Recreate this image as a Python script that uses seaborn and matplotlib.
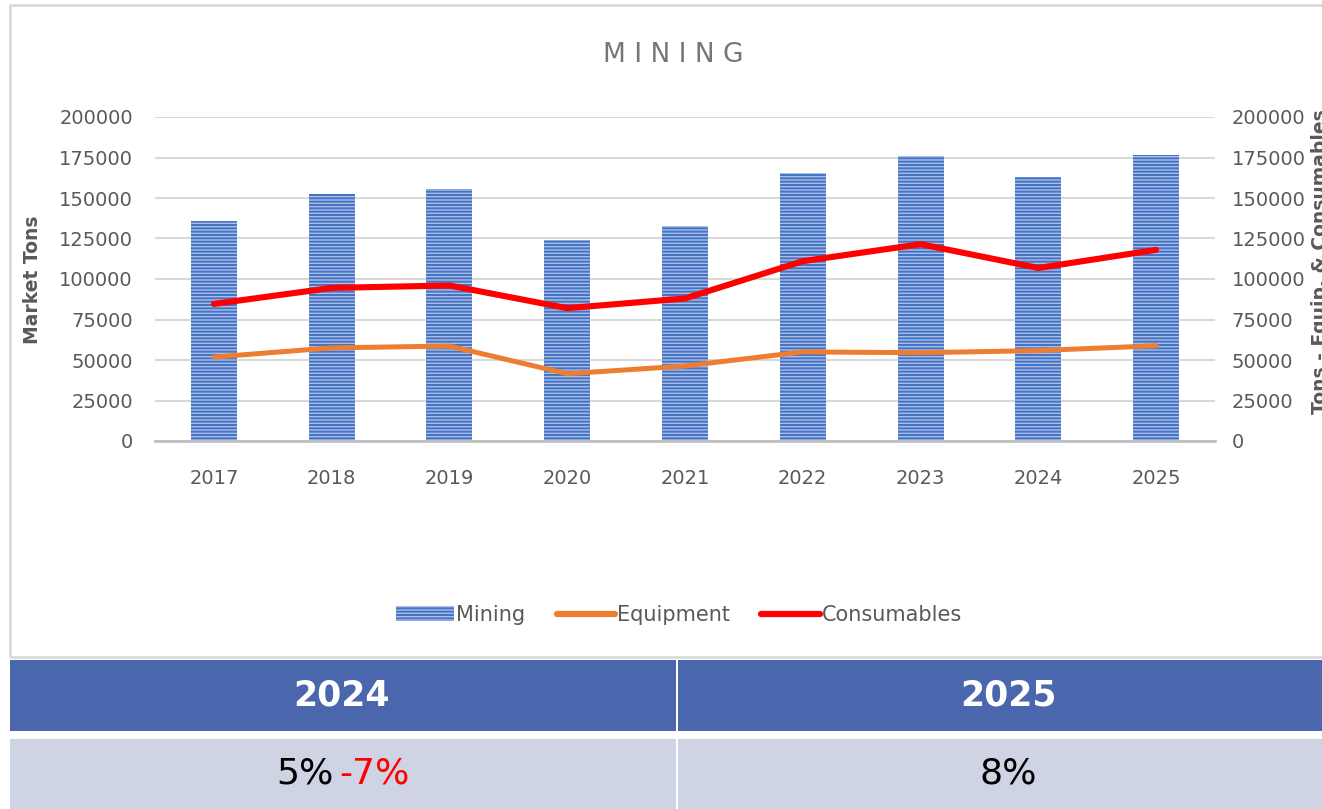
import numpy as np
import matplotlib
matplotlib.use("Agg")
import matplotlib.pyplot as plt
import seaborn as sns
from matplotlib.patches import Rectangle, Patch
from matplotlib.lines import Line2D

# data
years = ["2017", "2018", "2019", "2020", "2021", "2022", "2023", "2024", "2025"]
mining = [136000, 152500, 155600, 124000, 132700, 165400, 176000, 163000, 176500]
equipment = [51800, 57500, 58600, 41500, 46300, 55000, 54500, 55800, 58800]
consumables = [84600, 94500, 96000, 82000, 88000, 111000, 121500, 106800, 118000]
yticks = [0, 25000, 50000, 75000, 100000, 125000, 150000, 175000, 200000]

table_years = ["2024", "2025"]
table_first = ["5%", "8%"]
table_second = ["-7%", ""]

sns.set_style("white")
plt.rcParams["font.family"] = ["DejaVu Sans"]
plt.rcParams["hatch.linewidth"] = 1.4

grey = "#595959"
blue = "#4472C4"
bar_face = "#A9BFE8"
orange = "#ED7D31"
red = "#FF0000"

fig = plt.figure(figsize=(13.22, 8.09), dpi=100)
W, H = 1322, 809

def fx(px):
    return px / W

def fy(py):
    return 1 - py / H

# chart frame and table background
fig.patches.append(Rectangle((fx(10), fy(657)), fx(1330) - fx(10), fy(5) - fy(657),
                             transform=fig.transFigure, fill=False, edgecolor="#D9D9D9", lw=2))
fig.patches.append(Rectangle((fx(10), fy(731)), fx(1322) - fx(10), fy(660) - fy(731),
                             transform=fig.transFigure, color="#4A66AC", lw=0))
fig.patches.append(Rectangle((fx(10), fy(809)), fx(1322) - fx(10), fy(739) - fy(809),
                             transform=fig.transFigure, color="#CFD4E5", lw=0))
fig.patches.append(Rectangle((fx(676), fy(809)), fx(2), fy(660) - fy(809),
                             transform=fig.transFigure, color="white", lw=0))

ax = fig.add_axes([fx(155), fy(441), fx(1215) - fx(155), fy(117) - fy(441)])
sns.barplot(x=years, y=mining, ax=ax, width=0.39, color=bar_face,
            edgecolor=blue, linewidth=0, zorder=2)
for p in ax.patches:
    p.set_facecolor(bar_face)
    p.set_hatch("-----")
    p.set_edgecolor(blue)
    p.set_linewidth(0)

ax.set_ylim(0, 200000)
ax.set_yticks(yticks)
ax.set_yticklabels([str(v) for v in yticks])
ax.set_xlim(-0.5, len(years) - 0.5)
ax.grid(axis="y", color="#D9D9D9", lw=1.5, zorder=0)
ax.set_axisbelow(True)
for s in ["top", "left", "right"]:
    ax.spines[s].set_visible(False)
ax.spines["bottom"].set_color("#BFBFBF")
ax.spines["bottom"].set_linewidth(2)
ax.tick_params(axis="y", length=0, pad=16, labelsize=14, labelcolor=grey)
ax.tick_params(axis="x", length=0, pad=20, labelsize=14, labelcolor=grey)
ax.set_xlabel("")
ax.set_ylabel("")

ax2 = ax.twinx()
xpos = np.arange(len(years))
sns.lineplot(x=xpos, y=equipment, ax=ax2, color=orange, lw=3.6, zorder=3)
sns.lineplot(x=xpos, y=consumables, ax=ax2, color=red, lw=4.4, zorder=4)
ax2.set_ylim(0, 200000)
ax2.set_yticks(yticks)
ax2.set_yticklabels([str(v) for v in yticks])
ax2.tick_params(axis="y", length=0, pad=12, labelsize=14, labelcolor=grey)
for s in ["top", "left", "right", "bottom"]:
    ax2.spines[s].set_visible(False)
ax2.set_ylabel("")

fig.text(fx(673), fy(55), "M I N I N G", ha="center", va="center",
         fontsize=19, color="#767676")
fig.text(fx(32), fy(280), "Market Tons", rotation=90, ha="center", va="center",
         fontsize=13.5, fontweight="bold", color=grey)
fig.text(fx(1311), fy(262), "Tons - Equip. & Consumables", rotation=90,
         ha="left", va="center", fontsize=13.5, fontweight="bold", color=grey)

handles = [
    Patch(facecolor=bar_face, edgecolor=blue, hatch="-----", lw=0),
    Line2D([0], [0], color=orange, lw=4.5),
    Line2D([0], [0], color=red, lw=4.5),
]
fig.legend(handles, ["Mining", "Equipment", "Consumables"], loc="center",
           bbox_to_anchor=(fx(679), fy(615)), ncol=3, frameon=False,
           fontsize=15, labelcolor=grey, handlelength=2.8, handletextpad=0.1,
           columnspacing=1.5)

# summary table
fig.text(fx(342), fy(696), table_years[0], ha="center", va="center",
         fontsize=25, fontweight="bold", color="white")
fig.text(fx(1008), fy(696), table_years[1], ha="center", va="center",
         fontsize=25, fontweight="bold", color="white")
fig.text(fx(334), fy(774), table_first[0], ha="right", va="center",
         fontsize=26, color="black")
fig.text(fx(339), fy(774), table_second[0], ha="left", va="center",
         fontsize=26, color=red)
fig.text(fx(1008), fy(774), table_first[1], ha="center", va="center",
         fontsize=26, color="black")

fig.savefig("out.png", dpi=100)
